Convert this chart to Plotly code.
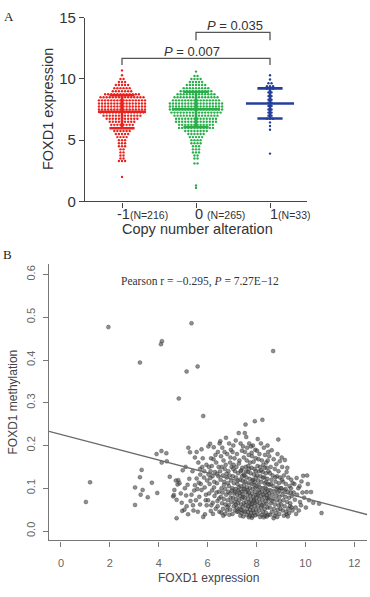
import plotly.graph_objects as go
import numpy as np

# ---------------- Panel A data (beeswarm rows: value level -> number of dots) ----------------
group_pos = [0, 1, 2]
group_names = ["-1", "0", "1"]
group_ns = [216, 265, 33]
group_colors = ["#e8231d", "#2aae4a", "#243f99"]

red_levels = [10.7, 10.3, 10.0, 9.75, 9.5, 9.25, 9.0, 8.75, 8.5, 8.25, 8.0, 7.75, 7.5, 7.25, 7.0,
              6.75, 6.5, 6.25, 6.0, 5.75, 5.5, 5.25, 5.0, 4.75, 4.5, 4.25, 4.0, 3.75, 3.5, 3.3, 2.0]
red_counts = [1, 1, 2, 3, 5, 6, 7, 12, 15, 16, 16, 16, 16, 15, 13,
              11, 9, 8, 8, 6, 5, 4, 3, 3, 3, 2, 2, 2, 2, 3, 1]

green_levels = [10.6, 10.25, 10.0, 9.75, 9.5, 9.25, 9.0, 8.75, 8.5, 8.25, 8.0, 7.75, 7.5, 7.25, 7.0,
                6.75, 6.5, 6.25, 6.0, 5.75, 5.5, 5.25, 5.0, 4.75, 4.5, 4.25, 4.0, 3.75, 3.5, 3.1, 1.3, 1.1]
green_counts = [1, 2, 4, 5, 7, 9, 11, 13, 15, 16, 18, 18, 18, 17, 15,
                14, 14, 12, 12, 8, 6, 5, 4, 4, 3, 3, 3, 2, 2, 2, 1, 1]

blue_levels = [10.3, 9.95, 9.65, 9.4, 9.2, 8.9, 8.6, 8.3, 8.05, 7.8, 7.5, 7.25, 7.0, 6.75, 6.45, 6.15, 5.85, 3.9]
blue_counts = [1, 1, 2, 3, 3, 2, 2, 2, 2, 2, 2, 2, 2, 3, 1, 1, 1, 1]

group_means = [7.32, 7.52, 8.00]
group_sds = [1.35, 1.44, 1.23]

bracket_pairs = [(1, 2), (0, 2)]
bracket_heights = [13.8, 11.68]
bracket_drops = [13.17, 11.13]
bracket_labels = ["<i>P</i> = 0.035", "<i>P</i> = 0.007"]

# ---------------- Panel B data (expression, methylation) ----------------
scatter_pts = [
    (1.02, 0.068), (1.19, 0.114), (1.94, 0.477),
    (3.03, 0.102), (3.03, 0.061), (3.30, 0.143), (3.23, 0.126), (3.26, 0.085), (3.34, 0.096), (3.23, 0.394),
    (3.55, 0.079), (3.72, 0.113), (3.94, 0.089), (3.91, 0.180),
    (4.09, 0.437), (4.13, 0.444), (4.11, 0.187), (4.31, 0.182), (4.12, 0.160), (4.33, 0.163), (4.45, 0.127),
    (4.82, 0.310), (4.59, 0.081), (4.73, 0.030), (4.77, 0.109), (4.80, 0.119), (4.64, 0.096), (4.73, 0.073),
    (4.62, 0.084), (4.94, 0.066), (4.90, 0.088), (4.85, 0.112), (4.96, 0.047), (4.70, 0.118), (4.98, 0.142),
    (5.14, 0.373), (5.34, 0.486), (5.07, 0.100), (5.14, 0.058), (5.20, 0.039), (5.05, 0.050), (5.21, 0.195),
    (5.28, 0.184), (5.48, 0.172), (5.34, 0.085), (5.48, 0.107), (5.40, 0.060), (5.12, 0.083), (5.25, 0.122),
    (5.38, 0.140), (5.45, 0.095), (5.30, 0.070), (5.18, 0.108), (5.42, 0.048), (5.10, 0.150),
    (5.59, 0.385), (5.82, 0.269), (5.82, 0.033), (5.75, 0.191), (5.69, 0.145), (5.55, 0.123), (5.75, 0.096),
    (5.69, 0.062), (5.89, 0.039), (5.62, 0.160), (5.78, 0.150), (5.95, 0.155), (5.58, 0.098), (5.66, 0.080),
    (5.72, 0.110), (5.85, 0.125), (5.92, 0.072), (5.52, 0.072), (5.88, 0.102), (5.98, 0.118), (5.60, 0.045),
    (5.80, 0.170), (5.93, 0.085), (5.70, 0.132), (5.55, 0.185), (5.96, 0.060), (5.86, 0.140), (5.64, 0.113),
    (6.03, 0.198), (6.10, 0.204), (6.25, 0.196), (6.05, 0.150), (6.12, 0.140), (6.20, 0.128), (6.35, 0.160),
    (6.45, 0.150), (6.08, 0.110), (6.18, 0.095), (6.28, 0.082), (6.40, 0.070), (6.02, 0.072), (6.15, 0.060),
    (6.33, 0.052), (6.48, 0.045), (6.22, 0.040), (6.06, 0.088), (6.38, 0.112), (6.44, 0.128), (6.30, 0.138),
    (6.14, 0.170), (6.42, 0.185), (6.26, 0.102), (6.46, 0.092), (6.11, 0.124), (6.36, 0.090), (6.21, 0.066),
    (6.49, 0.205), (6.32, 0.178), (6.04, 0.132), (6.27, 0.115), (6.17, 0.152), (6.39, 0.134), (6.47, 0.076),
    (6.13, 0.047), (6.24, 0.168), (6.41, 0.058),
    (6.52, 0.210), (6.60, 0.195), (6.75, 0.218), (6.88, 0.205), (6.95, 0.190), (6.55, 0.175), (6.65, 0.165),
    (6.80, 0.180), (6.92, 0.160), (6.58, 0.150), (6.70, 0.145), (6.85, 0.140), (6.98, 0.150), (6.62, 0.130),
    (6.78, 0.125), (6.90, 0.130), (6.53, 0.120), (6.68, 0.115), (6.83, 0.112), (6.96, 0.118), (6.57, 0.100),
    (6.72, 0.098), (6.87, 0.105), (6.99, 0.095), (6.61, 0.090), (6.76, 0.085), (6.91, 0.088), (6.54, 0.080),
    (6.66, 0.075), (6.82, 0.072), (6.94, 0.078), (6.59, 0.065), (6.73, 0.062), (6.86, 0.060), (6.97, 0.068),
    (6.63, 0.052), (6.79, 0.048), (6.93, 0.050), (6.56, 0.043), (6.71, 0.040), (6.89, 0.038), (6.67, 0.108),
    (6.84, 0.092), (6.74, 0.155), (6.51, 0.140), (6.93, 0.172), (6.69, 0.185), (6.81, 0.056), (6.64, 0.036),
    (6.77, 0.134),
    (7.27, 0.229), (7.05, 0.200), (7.15, 0.212), (7.35, 0.205), (7.45, 0.198), (7.02, 0.185), (7.20, 0.180),
    (7.40, 0.188), (7.10, 0.170), (7.30, 0.165), (7.48, 0.172), (7.06, 0.155), (7.18, 0.150), (7.28, 0.158),
    (7.42, 0.148), (7.12, 0.140), (7.25, 0.135), (7.38, 0.142), (7.47, 0.132), (7.03, 0.128), (7.16, 0.125),
    (7.33, 0.120), (7.44, 0.118), (7.08, 0.112), (7.22, 0.110), (7.36, 0.105), (7.49, 0.108), (7.01, 0.100),
    (7.14, 0.098), (7.26, 0.095), (7.39, 0.092), (7.46, 0.098), (7.09, 0.088), (7.21, 0.085), (7.32, 0.082),
    (7.43, 0.086), (7.04, 0.078), (7.17, 0.075), (7.29, 0.072), (7.41, 0.076), (7.11, 0.068), (7.24, 0.065),
    (7.37, 0.062), (7.48, 0.066), (7.07, 0.058), (7.19, 0.055), (7.31, 0.052), (7.44, 0.056), (7.13, 0.048),
    (7.26, 0.045), (7.39, 0.042), (7.02, 0.040), (7.34, 0.036), (7.46, 0.034), (7.23, 0.118), (7.35, 0.140),
    (7.05, 0.145), (7.41, 0.128), (7.15, 0.062), (7.28, 0.102), (7.45, 0.080), (7.12, 0.092), (7.20, 0.045),
    (7.37, 0.050), (7.30, 0.090), (7.47, 0.046),
    (7.55, 0.249), (7.52, 0.229), (7.93, 0.257), (7.58, 0.220), (7.70, 0.205), (7.85, 0.200), (7.62, 0.195),
    (7.78, 0.198), (7.95, 0.190), (7.53, 0.185), (7.68, 0.178), (7.82, 0.175), (7.97, 0.170), (7.60, 0.165),
    (7.74, 0.160), (7.88, 0.162), (7.56, 0.150), (7.66, 0.152), (7.80, 0.148), (7.92, 0.145), (7.64, 0.138),
    (7.76, 0.135), (7.89, 0.132), (7.51, 0.130), (7.59, 0.125), (7.72, 0.122), (7.86, 0.120), (7.98, 0.125),
    (7.54, 0.115), (7.67, 0.112), (7.79, 0.110), (7.91, 0.108), (7.61, 0.102), (7.73, 0.100), (7.84, 0.098),
    (7.96, 0.102), (7.57, 0.092), (7.69, 0.090), (7.81, 0.088), (7.94, 0.092), (7.63, 0.085), (7.75, 0.082),
    (7.87, 0.080), (7.99, 0.084), (7.52, 0.078), (7.65, 0.075), (7.77, 0.072), (7.90, 0.074), (7.58, 0.068),
    (7.71, 0.066), (7.83, 0.064), (7.95, 0.066), (7.55, 0.060), (7.67, 0.058), (7.79, 0.056), (7.92, 0.058),
    (7.62, 0.052), (7.74, 0.050), (7.86, 0.048), (7.98, 0.050), (7.53, 0.045), (7.66, 0.044), (7.78, 0.042),
    (7.90, 0.043), (7.60, 0.038), (7.72, 0.036), (7.84, 0.035), (7.96, 0.037), (7.69, 0.032), (7.81, 0.031),
    (7.57, 0.140), (7.83, 0.118), (7.70, 0.145), (7.93, 0.115), (7.64, 0.095), (7.88, 0.070), (7.75, 0.062),
    (7.97, 0.140), (7.50, 0.098), (7.80, 0.183),
    (8.24, 0.260), (8.05, 0.215), (8.18, 0.205), (8.30, 0.195), (8.45, 0.200), (8.02, 0.188), (8.12, 0.180),
    (8.35, 0.178), (8.48, 0.185), (8.08, 0.168), (8.22, 0.165), (8.40, 0.160), (8.04, 0.152), (8.15, 0.150),
    (8.28, 0.155), (8.42, 0.148), (8.10, 0.140), (8.25, 0.138), (8.38, 0.135), (8.49, 0.140), (8.03, 0.130),
    (8.16, 0.128), (8.32, 0.125), (8.44, 0.122), (8.07, 0.118), (8.20, 0.115), (8.34, 0.112), (8.47, 0.110),
    (8.01, 0.105), (8.13, 0.102), (8.27, 0.100), (8.39, 0.098), (8.09, 0.095), (8.23, 0.092), (8.36, 0.090),
    (8.46, 0.094), (8.05, 0.085), (8.17, 0.082), (8.31, 0.080), (8.43, 0.084), (8.11, 0.075), (8.24, 0.072),
    (8.37, 0.070), (8.49, 0.074), (8.02, 0.068), (8.14, 0.065), (8.29, 0.062), (8.41, 0.064), (8.06, 0.058),
    (8.19, 0.055), (8.33, 0.052), (8.45, 0.055), (8.10, 0.048), (8.26, 0.045), (8.38, 0.043), (8.04, 0.040),
    (8.21, 0.038), (8.35, 0.036), (8.48, 0.038), (8.15, 0.033), (8.30, 0.032), (8.42, 0.034), (8.08, 0.108),
    (8.26, 0.125), (8.40, 0.115), (8.19, 0.142), (8.33, 0.148), (8.12, 0.090), (8.44, 0.078), (8.22, 0.060),
    (8.36, 0.102), (8.00, 0.078), (8.46, 0.165), (8.28, 0.085),
    (8.68, 0.421), (8.89, 0.214), (8.62, 0.189), (8.81, 0.156), (8.52, 0.175), (8.70, 0.168), (8.95, 0.163),
    (8.58, 0.150), (8.75, 0.145), (8.90, 0.140), (8.55, 0.135), (8.66, 0.130), (8.84, 0.128), (8.97, 0.125),
    (8.61, 0.120), (8.78, 0.115), (8.92, 0.112), (8.53, 0.108), (8.69, 0.105), (8.86, 0.102), (8.99, 0.100),
    (8.57, 0.095), (8.73, 0.092), (8.88, 0.090), (8.64, 0.085), (8.80, 0.082), (8.94, 0.080), (8.51, 0.078),
    (8.67, 0.075), (8.83, 0.072), (8.96, 0.070), (8.59, 0.065), (8.76, 0.062), (8.91, 0.060), (8.54, 0.055),
    (8.71, 0.052), (8.87, 0.050), (8.98, 0.052), (8.63, 0.045), (8.79, 0.042), (8.93, 0.040), (8.56, 0.038),
    (8.74, 0.035), (8.85, 0.033), (8.60, 0.110), (8.82, 0.098), (8.65, 0.070), (8.77, 0.125), (8.93, 0.095),
    (8.52, 0.088), (8.70, 0.030), (8.86, 0.180),
    (9.03, 0.172), (9.16, 0.166), (9.23, 0.138), (9.37, 0.058), (9.23, 0.039), (9.05, 0.150), (9.12, 0.130),
    (9.30, 0.125), (9.42, 0.120), (9.08, 0.115), (9.20, 0.110), (9.35, 0.105), (9.48, 0.112), (9.02, 0.100),
    (9.14, 0.095), (9.28, 0.092), (9.40, 0.090), (9.06, 0.085), (9.18, 0.080), (9.33, 0.078), (9.45, 0.082),
    (9.10, 0.072), (9.25, 0.068), (9.38, 0.065), (9.01, 0.062), (9.15, 0.058), (9.30, 0.052), (9.44, 0.055),
    (9.07, 0.048), (9.21, 0.045), (9.34, 0.042), (9.47, 0.048), (9.12, 0.036), (9.28, 0.034), (9.04, 0.120),
    (9.19, 0.098), (9.41, 0.100), (9.26, 0.148),
    (9.64, 0.124), (9.91, 0.129), (9.84, 0.116), (9.71, 0.100), (9.52, 0.090), (9.57, 0.073), (9.66, 0.085),
    (9.78, 0.068), (9.60, 0.055), (9.73, 0.048), (9.88, 0.090), (9.55, 0.110), (9.82, 0.060), (9.95, 0.078),
    (9.62, 0.040), (9.76, 0.105),
    (10.07, 0.130), (10.05, 0.091), (10.23, 0.091), (10.32, 0.066), (10.15, 0.072), (10.02, 0.055), (10.10, 0.110),
    (10.56, 0.064), (10.66, 0.042),
]
expr_x = [p[0] for p in scatter_pts]
meth_y = [p[1] for p in scatter_pts]

fit_intercept = 0.2257
fit_slope = -0.01494
pearson_text = "Pearson r = \u22120.295, <i>P</i> = 7.27E\u221212"

# ---------------- Build figure ----------------
W, H = 370, 597
def px(x):
    return x / W
def py(y):
    return 1 - y / H

fig = go.Figure()
SANS = "Liberation Sans, Arial, sans-serif"
SERIF = "Liberation Serif, Times New Roman, serif"

dot_sp = 0.0415
for gi, (levels, counts) in enumerate([(red_levels, red_counts), (green_levels, green_counts), (blue_levels, blue_counts)]):
    xs, ys = [], []
    for lv, n in zip(levels, counts):
        for k in range(n):
            xs.append(group_pos[gi] + (k - (n - 1) / 2) * dot_sp)
            ys.append(lv)
    fig.add_trace(go.Scatter(x=xs, y=ys, mode="markers", xaxis="x", yaxis="y",
                             marker=dict(size=2.4, color=group_colors[gi], line=dict(width=0)),
                             showlegend=False, hoverinfo="skip"))

mean_half = 0.325
cap_half = 0.17
for gi in range(3):
    g = group_pos[gi]
    m, s = group_means[gi], group_sds[gi]
    fig.add_trace(go.Scatter(
        x=[g - mean_half, g + mean_half, None, g - cap_half, g + cap_half, None,
           g - cap_half, g + cap_half, None, g, g],
        y=[m, m, None, m + s, m + s, None, m - s, m - s, None, m - s, m + s],
        mode="lines", xaxis="x", yaxis="y", line=dict(color=group_colors[gi], width=2.6),
        showlegend=False, hoverinfo="skip"))

for (a, b), h, d in zip(bracket_pairs, bracket_heights, bracket_drops):
    fig.add_trace(go.Scatter(x=[group_pos[a], group_pos[a], group_pos[b], group_pos[b]], y=[d, h, h, d],
                             mode="lines", xaxis="x", yaxis="y", line=dict(color="#555555", width=1.3),
                             showlegend=False, hoverinfo="skip"))

fig.add_trace(go.Scatter(x=expr_x, y=meth_y, mode="markers", xaxis="x2", yaxis="y2",
                         marker=dict(size=4.0, color="rgba(75,75,75,0.62)",
                                     line=dict(width=0.5, color="rgba(30,30,30,0.6)")),
                         showlegend=False, hoverinfo="skip"))
x2_range = [-0.49, 12.52]
fig.add_trace(go.Scatter(x=x2_range, y=[fit_intercept + fit_slope * v for v in x2_range],
                         mode="lines", xaxis="x2", yaxis="y2", line=dict(color="#6a6a6a", width=1.3),
                         showlegend=False, hoverinfo="skip"))

ann = []
# panel labels
ann.append(dict(text="A", x=px(9), y=py(8), font=dict(family=SERIF, size=13, color="#222")))
ann.append(dict(text="B", x=px(7), y=py(253), font=dict(family=SERIF, size=13, color="#222")))
# panel A texts
ann.append(dict(text=bracket_labels[0], x=px(235), y=py(17), font=dict(family=SANS, size=13, color="#333")))
ann.append(dict(text=bracket_labels[1], x=px(192), y=py(44), font=dict(family=SANS, size=13, color="#333")))
ann.append(dict(text="FOXD1 expression", x=px(48), y=py(103), textangle=-90,
                font=dict(family=SANS, size=14.5, color="#333")))
ann.append(dict(text="Copy number alteration", x=px(197), y=py(226.5),
                font=dict(family=SANS, size=14.5, color="#333")))
xlab_left = [115, 193, 268]
xlab_gap = ["", " ", ""]
for i in range(3):
    ann.append(dict(text=group_names[i] + xlab_gap[i] + "<span style='font-size:10.5px'>(N=%d)</span>" % group_ns[i],
                    x=px(xlab_left[i]), y=py(211), xanchor="left",
                    font=dict(family=SANS, size=14.5, color="#333")))
# panel B texts
ann.append(dict(text=pearson_text, x=px(200), y=py(281), font=dict(family=SERIF, size=11.5, color="#333")))
ann.append(dict(text="FOXD1 expression", x=px(208), y=py(586), font=dict(family=SANS, size=12, color="#444")))
ann.append(dict(text="FOXD1 methylation", x=px(13), y=py(405), textangle=-90,
                font=dict(family=SANS, size=12, color="#444")))
for a in ann:
    a.update(xref="paper", yref="paper", showarrow=False)
    a.setdefault("xanchor", "center")
    a.setdefault("yanchor", "middle")

fig.update_layout(
    width=W, height=H, margin=dict(l=0, r=0, t=0, b=0),
    paper_bgcolor="white", plot_bgcolor="white", showlegend=False,
    annotations=ann,
    xaxis=dict(domain=[px(85), px(307)], range=[-0.5, 2.5], anchor="y",
               tickvals=group_pos, showticklabels=False, ticks="outside", ticklen=5, tickwidth=1.3,
               tickcolor="#444", showline=True, linecolor="#444", linewidth=1.3,
               showgrid=False, zeroline=False, fixedrange=True),
    yaxis=dict(domain=[py(198), py(9)], range=[0, 15], anchor="x",
               tickvals=[0, 5, 10, 15], ticks="outside", ticklen=5, tickwidth=1.3, tickcolor="#444",
               showline=True, linecolor="#444", linewidth=1.3, showgrid=False, zeroline=False,
               tickfont=dict(family=SANS, size=15, color="#333")),
    xaxis2=dict(domain=[px(49), px(367)], range=x2_range, anchor="y2",
                tickvals=[0, 2, 4, 6, 8, 10, 12], ticks="outside", ticklen=5, tickwidth=1, tickcolor="#777",
                showline=True, linecolor="#777", linewidth=1.2, showgrid=False, zeroline=False,
                tickfont=dict(family=SANS, size=11, color="#666"), ticklabelstandoff=7),
    yaxis2=dict(domain=[py(547), py(262.7)], range=[-0.022, 0.6241], anchor="x2",
                tickvals=[0, 0.1, 0.2, 0.3, 0.4, 0.5, 0.6], ticktext=["0.0", "0.1", "0.2", "0.3", "0.4", "0.5", "0.6"],
                tickangle=-90, ticks="outside", ticklen=5, tickwidth=1, tickcolor="#777",
                showline=True, linecolor="#777", linewidth=1.2, showgrid=False, zeroline=False,
                tickfont=dict(family=SANS, size=11, color="#666"), ticklabelstandoff=4),
)

fig.write_html("out.html", config={"displayModeBar": False},
               post_script="document.body.style.margin='0';document.body.style.padding='0';"
                           "document.documentElement.style.overflow='hidden';")
